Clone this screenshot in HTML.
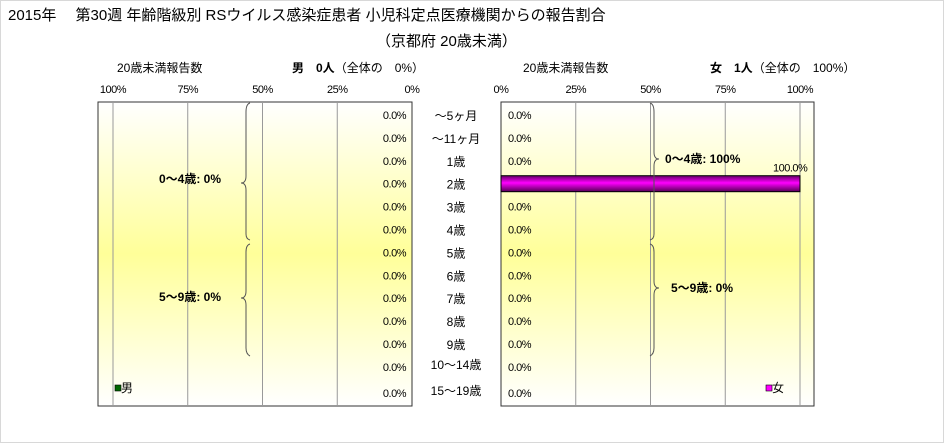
<!DOCTYPE html>
<html><head><meta charset="utf-8">
<style>
html,body{margin:0;padding:0;background:#fff;}
svg{display:block;font-family:"Liberation Sans","Noto Sans CJK JP",sans-serif;}
</style></head>
<body>
<svg id="chart" width="944" height="443" viewBox="0 0 944 443" xmlns="http://www.w3.org/2000/svg">
<defs>
<linearGradient id="bg" x1="0" y1="0" x2="0" y2="1">
<stop offset="0" stop-color="#ffffff"/>
<stop offset="0.5" stop-color="#ffff99"/>
<stop offset="1" stop-color="#ffffff"/>
</linearGradient>
<linearGradient id="barF" x1="0" y1="0" x2="0" y2="1">
<stop offset="0" stop-color="#660066"/>
<stop offset="0.45" stop-color="#ff00ff"/>
<stop offset="1" stop-color="#550055"/>
</linearGradient>
</defs>
<rect x="0.5" y="0.5" width="943" height="442" fill="#fff" stroke="#d8d8d8"/>
<text x="8" y="20" font-size="15">2015年　 第30週 年齢階級別 RSウイルス感染症患者 小児科定点医療機関からの報告割合</text>
<text x="376" y="46" font-size="15">（京都府 20歳未満）</text>

<text x="117" y="72" font-size="12">20歳未満報告数</text>
<text x="292" y="72" font-size="12"><tspan font-weight="bold">男　0人</tspan>（全体の　0%）</text>
<text x="523" y="72" font-size="12">20歳未満報告数</text>
<text x="710" y="72" font-size="12"><tspan font-weight="bold">女　1人</tspan>（全体の　100%）</text>

<rect x="98" y="102" width="314" height="304" fill="url(#bg)" stroke="#333"/>
<rect x="501" y="102" width="313" height="304" fill="url(#bg)" stroke="#333"/>
<g id="grid"></g>
<g id="marks"></g>

<path d="M250,103 Q246,104 246,112 L246,176 Q246,183 241,183 Q246,183 246,190 L246,234 Q246,239 250,240" fill="none" stroke="#555"/>
<path d="M250,244 Q246,245 246,252 L246,291 Q246,298 241,298 Q246,298 246,305 L246,348 Q246,354 250,356" fill="none" stroke="#555"/>
<text x="159" y="183" font-size="12" font-weight="bold">0～4歳: 0%</text>
<text x="159" y="301" font-size="12" font-weight="bold">5～9歳: 0%</text>
<path d="M650,103 Q654,104 654,112 L654,152 Q654,159 659,159 Q654,159 654,166 L654,234 Q654,239 650,240" fill="none" stroke="#555"/>
<path d="M650,244 Q654,245 654,252 L654,281 Q654,288 659,288 Q654,288 654,295 L654,348 Q654,354 650,356" fill="none" stroke="#555"/>
<text x="665" y="163" font-size="12" font-weight="bold">0～4歳: 100%</text>
<text x="671" y="292" font-size="12" font-weight="bold">5～9歳: 0%</text>

<rect x="115" y="385" width="6" height="6" fill="#006600" stroke="#000" stroke-width="0.6"/>
<text x="121" y="392" font-size="12">男</text>
<rect x="766" y="385" width="6" height="6" fill="#ff00ff" stroke="#000" stroke-width="0.6"/>
<text x="772" y="392" font-size="12">女</text>
</svg>
<script>
const categories = ["～5ヶ月","～11ヶ月","1歳","2歳","3歳","4歳","5歳","6歳","7歳","8歳","9歳","10～14歳","15～19歳"];
const maleValues = [0,0,0,0,0,0,0,0,0,0,0,0,0];
const femaleValues = [0,0,0,100,0,0,0,0,0,0,0,0,0];
const tickValues = [0,25,50,75,100];
const tickLabels = ["0%","25%","50%","75%","100%"];

const NS = "http://www.w3.org/2000/svg";
const grid = document.getElementById("grid");
const marks = document.getElementById("marks");
const xMale = v => 412 - v * 2.99;
const xFemale = v => 501 + v * 2.99;
const yRow = i => 115 + i * 22.9;
function mk(tag, attrs, parent, txt) {
  const e = document.createElementNS(NS, tag);
  for (const k in attrs) e.setAttribute(k, attrs[k]);
  if (txt !== undefined) e.textContent = txt;
  parent.appendChild(e);
  return e;
}
tickValues.forEach((t, i) => {
  [["male", xMale], ["female", xFemale]].forEach(([side, fx]) => {
    const x = fx(t);
    if (t > 0) {
      const g = mk("line", {x1: x, x2: x, y1: 102, y2: 406, stroke: "#999", "stroke-width": 1}, grid);
      
      
    }
    const lb = mk("text", {x: x, y: 93, "font-size": 11, "text-anchor": "middle", "letter-spacing": "-0.5"}, grid, tickLabels[i]);
    
    
  });
});
categories.forEach((c, i) => {
  const y = yRow(i);
  const lt = i >= 11 ? y - 3 + (i - 11) * 3 : y;
  const cl = mk("text", {x: 456, y: lt + 5, "font-size": 12, "text-anchor": "middle"}, marks, c);
  
  
  const mv = maleValues[i];
  if (mv > 0) {
    const b = mk("rect", {x: xMale(mv), y: y - 8, width: xMale(0) - xMale(mv), height: 16, fill: "#006600", stroke: "#000"}, marks);
    
    
  }
  const ml = mk("text", {x: 406, y: y + 4 + (i === 12 ? 3 : 0), "font-size": 11, "text-anchor": "end", "letter-spacing": "-0.5"}, marks, mv.toFixed(1) + "%");
  
  
  const fv = femaleValues[i];
  if (fv > 0) {
    const b = mk("rect", {x: xFemale(0), y: y - 8, width: xFemale(fv) - xFemale(0), height: 16, fill: "url(#barF)", stroke: "#000"}, marks);
    
    
    const fl = mk("text", {x: xFemale(fv) - 27, y: y - 12, "font-size": 11, "letter-spacing": "-0.5"}, marks, fv.toFixed(1) + "%");
    
    
  } else {
    const fl = mk("text", {x: 508, y: y + 4 + (i === 12 ? 3 : 0), "font-size": 11, "letter-spacing": "-0.5"}, marks, fv.toFixed(1) + "%");
    
    
  }
});
</script>
</body></html>
